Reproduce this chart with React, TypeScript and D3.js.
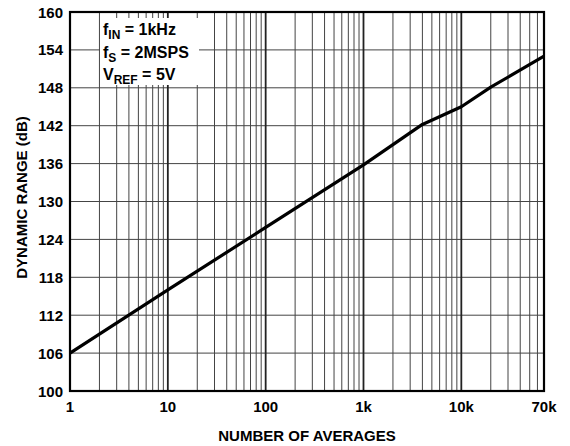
import React from "react";
import * as d3 from "d3";

const averages = [1, 10, 100, 1000, 4000, 10000, 20000, 70000];
const dynamicRange = [106, 116, 125.9, 135.8, 142.2, 145, 148.1, 153];
const xTickValues = [1, 10, 100, 1000, 10000, 70000];
const xTickLabels = ["1", "10", "100", "1k", "10k", "70k"];
const yTickValues = [100, 106, 112, 118, 124, 130, 136, 142, 148, 154, 160];

const W = 570;
const H = 446;
const M = { left: 70, right: 26, top: 12, bottom: 55 };
const FONT = "'Liberation Sans', Arial, Helvetica, sans-serif";

export default function App() {
  const x = d3.scaleLog().domain([1, 70000]).range([M.left, W - M.right]);
  const y = d3.scaleLinear().domain([100, 160]).range([H - M.bottom, M.top]);

  const minor: { v: number; decade: boolean }[] = [];
  for (let p = 0; p <= 4; p++) {
    for (let m = 1; m <= 9; m++) {
      const v = m * Math.pow(10, p);
      if (v > 70000) break;
      minor.push({ v, decade: m === 1 });
    }
  }

  const line = d3
    .line<number>()
    .x((_, i) => x(averages[i]))
    .y((d) => y(d))
    .curve(d3.curveLinear);

  const boxX = 100;
  const boxY = 18;
  const boxW = 99;
  const boxH = 67;

  return (
    <svg
      width={W}
      height={H}
      style={{ position: "absolute", left: 0, top: 0, background: "#fff" }}
      fontFamily={FONT}
      fontWeight="bold"
    >
      <rect x={0} y={0} width={W} height={H} fill="#fff" />
      {yTickValues.map((v) => (
        <line key={"h" + v} x1={x(1)} x2={x(70000)} y1={y(v)} y2={y(v)} stroke="#444" strokeWidth={1} />
      ))}
      {minor.map((d) => (
        <line
          key={"v" + d.v}
          x1={x(d.v)}
          x2={x(d.v)}
          y1={y(100)}
          y2={y(160)}
          stroke={d.decade ? "#222" : "#444"}
          strokeWidth={d.decade ? 1.8 : 1}
        />
      ))}
      <rect x={boxX} y={boxY} width={boxW} height={boxH} fill="#fff" />
      <text x={boxX + 3} y={boxY + 17} fontSize={16}>
        f<tspan fontSize={12} dy={4}>IN</tspan>
        <tspan dy={-4}> = 1kHz</tspan>
      </text>
      <text x={boxX + 3} y={boxY + 40} fontSize={16}>
        f<tspan fontSize={12} dy={4}>S</tspan>
        <tspan dy={-4}> = 2MSPS</tspan>
      </text>
      <text x={boxX + 3} y={boxY + 62} fontSize={16}>
        V<tspan fontSize={12} dy={4}>REF</tspan>
        <tspan dy={-4}> = 5V</tspan>
      </text>
      <rect
        x={x(1)}
        y={y(160)}
        width={x(70000) - x(1)}
        height={y(100) - y(160)}
        fill="none"
        stroke="#000"
        strokeWidth={2.2}
      />
      <path d={line(dynamicRange) || ""} fill="none" stroke="#000" strokeWidth={3.2} strokeLinejoin="round" />
      {yTickValues.map((v) => (
        <text key={"yl" + v} x={63} y={y(v) + 5.5} fontSize={15} textAnchor="end">
          {v}
        </text>
      ))}
      {xTickValues.map((v, i) => (
        <text key={"xl" + v} x={x(v)} y={412} fontSize={15} textAnchor="middle">
          {xTickLabels[i]}
        </text>
      ))}
      <text x={(x(1) + x(70000)) / 2} y={441} fontSize={15} textAnchor="middle">
        NUMBER OF AVERAGES
      </text>
      <text
        transform={`translate(27, ${(y(100) + y(160)) / 2 - 4}) rotate(-90)`}
        fontSize={15}
        textAnchor="middle"
      >
        DYNAMIC RANGE (dB)
      </text>
    </svg>
  );
}
